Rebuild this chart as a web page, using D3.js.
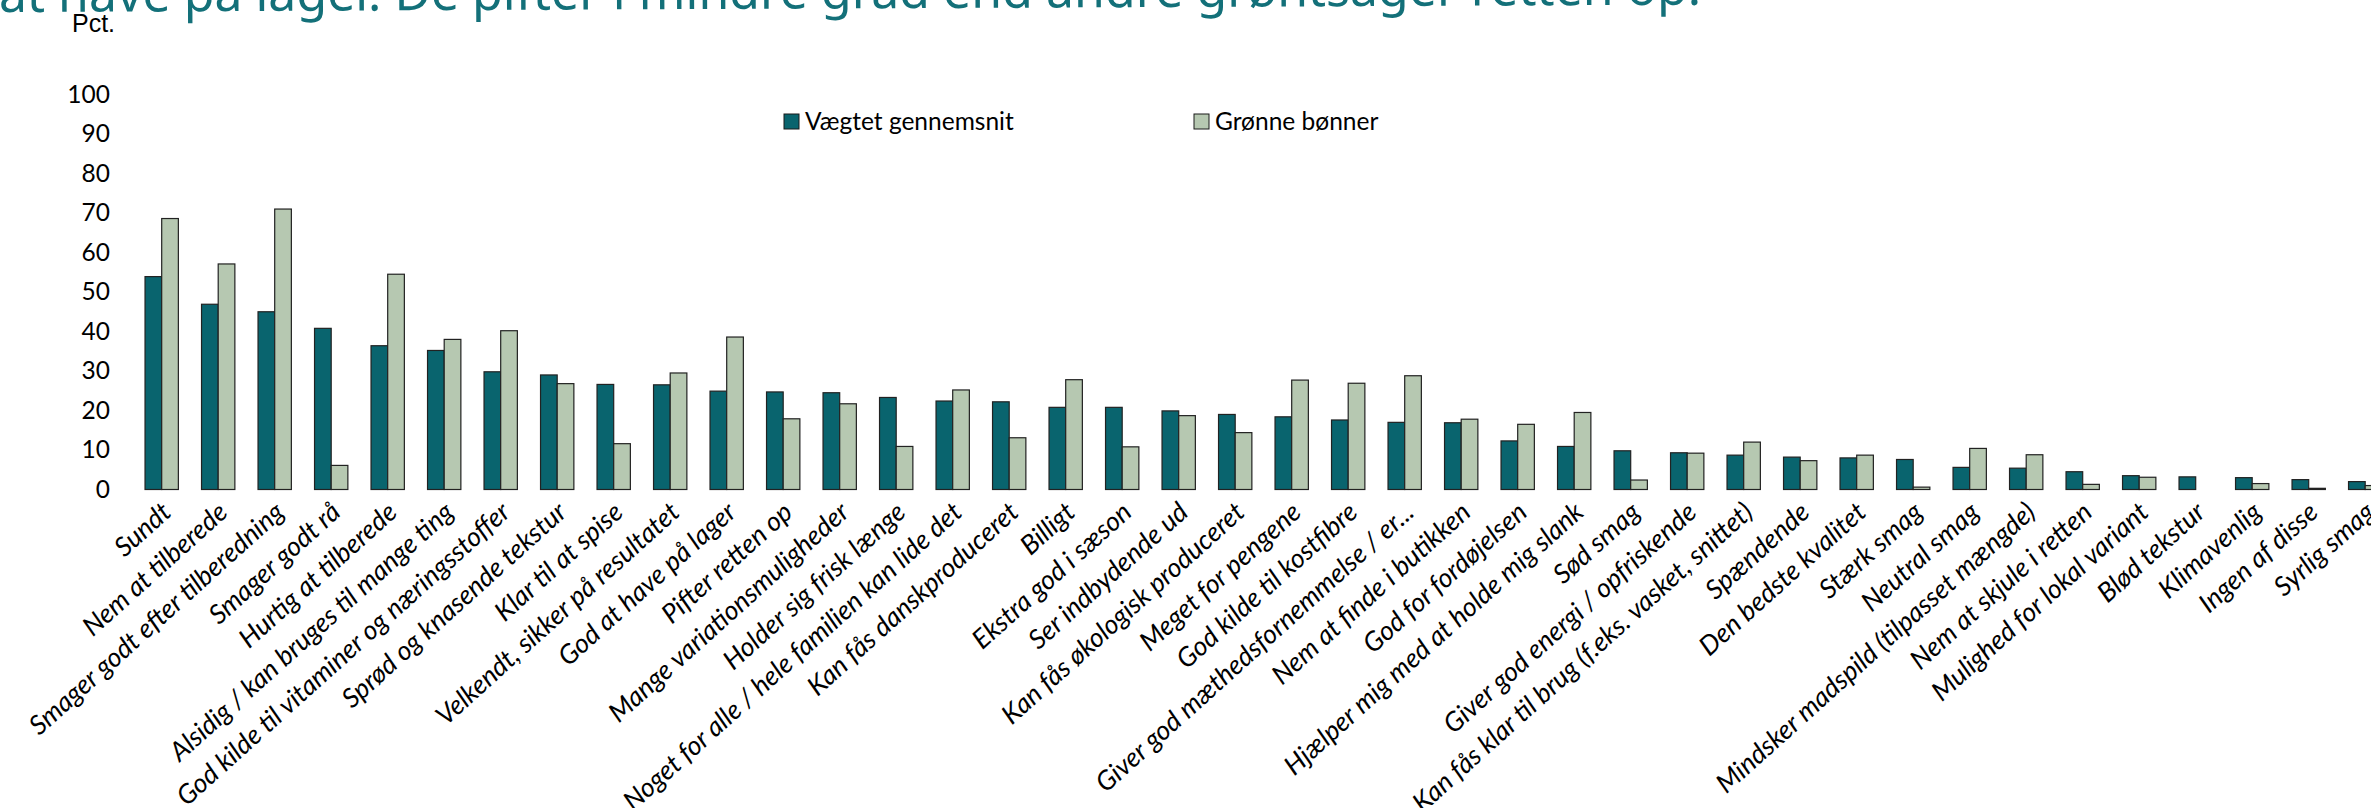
<!DOCTYPE html>
<html>
<head>
<meta charset="utf-8">
<script src="https://cdn.jsdelivr.net/npm/d3@7"></script>
<style>
  html, body { margin: 0; padding: 0; background: #ffffff; }
  svg { display: block; }
</style>
</head>
<body>
<svg id="chart" width="2371" height="808"></svg>
<script>
// Product attributes (x categories)
const categories = [
  "Sundt",
  "Nem at tilberede",
  "Smager godt efter tilberedning",
  "Smager godt rå",
  "Hurtig at tilberede",
  "Alsidig / kan bruges til mange ting",
  "God kilde til vitaminer og næringsstoffer",
  "Sprød og knasende tekstur",
  "Klar til at spise",
  "Velkendt, sikker på resultatet",
  "God at have på lager",
  "Pifter retten op",
  "Mange variationsmuligheder",
  "Holder sig frisk længe",
  "Noget for alle / hele familien kan lide det",
  "Kan fås danskproduceret",
  "Billigt",
  "Ekstra god i sæson",
  "Ser indbydende ud",
  "Kan fås økologisk produceret",
  "Meget for pengene",
  "God kilde til kostfibre",
  "Giver god mæthedsfornemmelse / er...",
  "Nem at finde i butikken",
  "God for fordøjelsen",
  "Hjælper mig med at holde mig slank",
  "Sød smag",
  "Giver god energi / opfriskende",
  "Kan fås klar til brug (f.eks. vasket, snittet)",
  "Spændende",
  "Den bedste kvalitet",
  "Stærk smag",
  "Neutral smag",
  "Mindsker madspild (tilpasset mængde)",
  "Nem at skjule i retten",
  "Mulighed for lokal variant",
  "Blød tekstur",
  "Klimavenlig",
  "Ingen af disse",
  "Syrlig smag"
];

// Share of respondents (pct.)
const weightedAverage = [
  53.9, 46.9, 45.0, 40.8, 36.4, 35.2, 29.8, 29.0, 26.6, 26.5,
  24.9, 24.7, 24.5, 23.3, 22.4, 22.2, 20.8, 20.8, 19.9, 19.0,
  18.4, 17.6, 17.0, 16.9, 12.3, 10.9, 9.8, 9.3, 8.7, 8.2,
  8.0, 7.6, 5.6, 5.4, 4.5, 3.5, 3.2, 3.0, 2.5, 2.0
];
const greenBeans = [
  68.6, 57.1, 71.0, 6.1, 54.5, 38.0, 40.2, 26.8, 11.6, 29.5,
  38.6, 17.9, 21.7, 10.9, 25.2, 13.1, 27.8, 10.8, 18.7, 14.4,
  27.7, 26.9, 28.8, 17.8, 16.5, 19.5, 2.4, 9.2, 12.0, 7.3,
  8.7, 0.6, 10.4, 8.8, 1.3, 3.1, 0.0, 1.5, 0.3, 1.0
];

const seriesNames = ["Vægtet gennemsnit", "Grønne bønner"];
const seriesColors = ["#09646e", "#b6c8b1"];
const yTickValues = [0, 10, 20, 30, 40, 50, 60, 70, 80, 90, 100];
const unitLabel = "Pct.";
const headline = "at have på lager. De pifter i mindre grad end andre grøntsager retten op.";

const svg = d3.select("#chart");

const x = d3.scaleBand()
  .domain(categories)
  .range([133.45, 2393.45])
  .paddingInner(0.41)
  .paddingOuter(0.205);

const xSeries = d3.scaleBand()
  .domain(d3.range(seriesNames.length))
  .range([0, x.bandwidth()]);

const y = d3.scaleLinear().domain([0, 100]).range([489.5, 94.5]);

// Headline, partly above the top edge
svg.append("text")
  .attr("x", -1)
  .attr("y", 12)
  .attr("transform", "rotate(-0.25, 0, 12)")
  .attr("font-family", "'Noto Sans', sans-serif")
  .attr("font-size", 50)
  .attr("fill", "#137079")
  .text(headline);

// Unit label
svg.append("text")
  .attr("x", 72)
  .attr("y", 32)
  .attr("font-family", "'Liberation Sans', Arial, sans-serif")
  .attr("font-size", 25)
  .attr("fill", "#000")
  .text(unitLabel);

// Y axis: labels only
const yAxis = svg.append("g")
  .attr("transform", "translate(110,0)")
  .call(d3.axisLeft(y).tickValues(yTickValues).tickSize(0).tickPadding(0));
yAxis.select(".domain").remove();
yAxis.selectAll("text")
  .attr("font-family", "Lato, sans-serif")
  .attr("font-size", 24.5)
  .attr("fill", "#000");

// Bars
const rows = categories.map((c, i) => ({ cat: c, values: [weightedAverage[i], greenBeans[i]] }));
const groups = svg.append("g").selectAll("g")
  .data(rows)
  .join("g")
  .attr("transform", d => `translate(${x(d.cat)},0)`);

groups.selectAll("rect")
  .data(d => d.values.map((v, k) => ({ v, k })))
  .join("rect")
  .attr("x", d => xSeries(d.k))
  .attr("y", d => y(d.v))
  .attr("width", xSeries.bandwidth())
  .attr("height", d => y(0) - y(d.v))
  .attr("fill", d => seriesColors[d.k])
  .attr("stroke", "#222")
  .attr("stroke-width", 1.2);

// Category labels, rotated
const xAxis = svg.append("g")
  .attr("transform", `translate(0,${y(0)})`)
  .call(d3.axisBottom(x).tickSize(0).tickPadding(0));
xAxis.select(".domain").remove();
xAxis.selectAll(".tick text")
  .attr("font-family", "Lato, sans-serif")
  .attr("font-style", "italic")
  .attr("font-size", 26.6)
  .attr("fill", "#000")
  .attr("text-anchor", "end")
  .attr("dy", null)
  .attr("y", 0)
  .attr("transform", "translate(11,25) rotate(-42)");

// Legend
const legend = svg.append("g");
const legendX = [784, 1194];
seriesNames.forEach((name, k) => {
  legend.append("rect")
    .attr("x", legendX[k]).attr("y", 114)
    .attr("width", 15).attr("height", 15)
    .attr("fill", seriesColors[k])
    .attr("stroke", "#1a1a1a").attr("stroke-width", 1);
  legend.append("text")
    .attr("x", legendX[k] + 21).attr("y", 130)
    .attr("font-family", "Lato, sans-serif")
    .attr("font-size", 24.5)
    .attr("fill", "#000")
    .text(name);
});
</script>
</body>
</html>
